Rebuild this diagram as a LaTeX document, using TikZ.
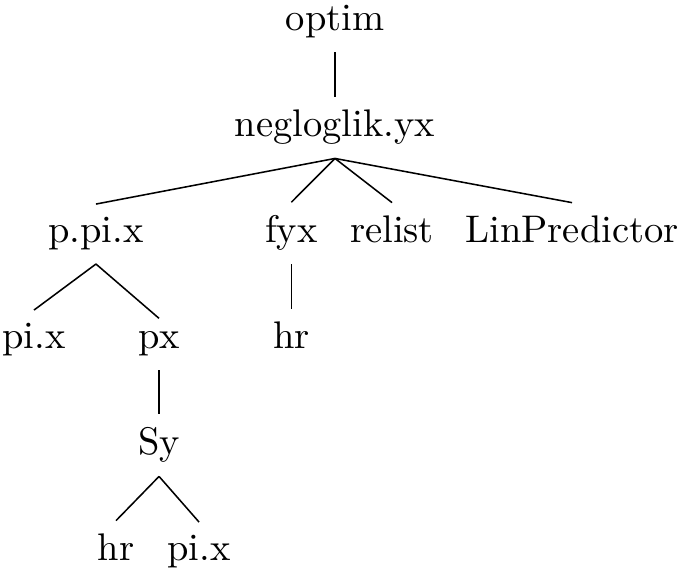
\documentclass[tikz,border=0pt]{standalone}

\begin{document}
\begin{tikzpicture}[
  x=1cm,
  y=1cm,
  line/.style={draw=black,line width=0.4pt},
  fn/.style={anchor=base,font=\normalsize}
]
\useasboundingbox (0,0) rectangle (6.226,5.194);

% Root and first level
\node[fn] (optim) at (3.058,4.911) {optim};
\node[fn] (neglog) at (3.058,3.944) {negloglik.yx};

% Functions called by negloglik.yx
\node[fn] (ppix) at (0.876,2.976) {p.pi.x};
\node[fn] (fyx) at (2.660,2.976) {fyx};
\node[fn] (relist) at (3.579,2.976) {relist};
\node[fn] (linpred) at (5.222,2.976) {LinPredictor};

% Third level
\node[fn] (pix) at (0.310,2.008) {pi.x};
\node[fn] (px) at (1.452,2.008) {px};
\node[fn] (hrf) at (2.660,2.008) {hr};

% Below px
\node[fn] (sy) at (1.452,1.041) {Sy};
\node[fn] (hrs) at (1.059,0.073) {hr};
\node[fn] (pixs) at (1.817,0.073) {pi.x};

% Call edges, parent south to child north
\foreach \p/\c in {optim/neglog,neglog/ppix,neglog/fyx,neglog/relist,neglog/linpred,
                   ppix/pix,ppix/px,fyx/hrf,px/sy,sy/hrs,sy/pixs}
  \draw[line] (\p.south) -- (\c.north);

\end{tikzpicture}
\end{document}
